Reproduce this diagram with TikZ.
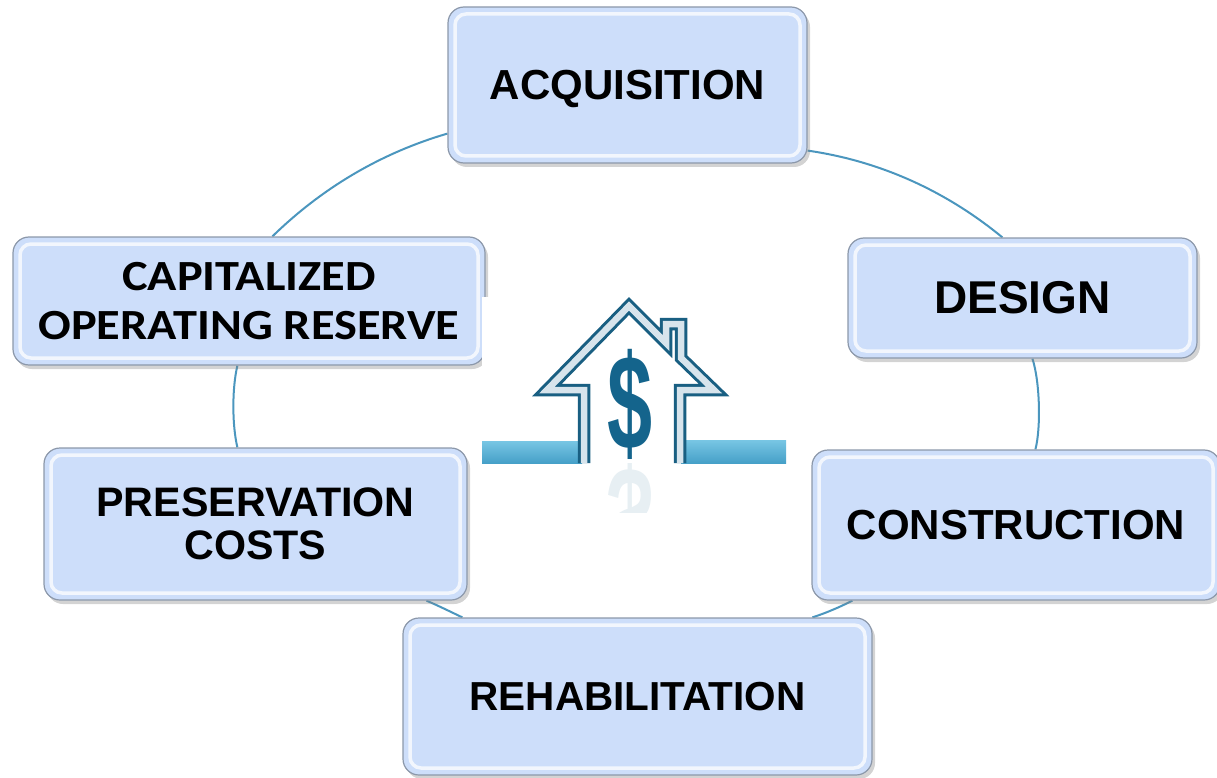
\documentclass[tikz,border=0pt]{standalone}
\usepackage{fontspec}
\setmainfont{Liberation Sans}
\newfontfamily\capfont[FakeStretch=1.125]{Carlito}
\usetikzlibrary{shadows,calc}
\definecolor{boxfill}{RGB}{205,222,250}
\definecolor{boxline}{RGB}{140,152,170}
\definecolor{ringcol}{RGB}{75,150,190}
\definecolor{housedark}{RGB}{25,95,130}
\definecolor{houseface}{RGB}{215,228,236}
\definecolor{dollarcol}{RGB}{20,100,140}
\definecolor{bandtop}{RGB}{120,198,228}
\definecolor{bandbot}{RGB}{70,160,200}
\pgfdeclarelayer{bg}
\pgfsetlayers{bg,main}
\tikzset{
  stage/.style={draw=boxline, line width=1.2pt, fill=boxfill, rounded corners=16pt,
    inner sep=0pt, align=center, text=black,
    drop shadow={shadow xshift=3pt, shadow yshift=-4pt, opacity=0.35},
    path picture={\draw[white, opacity=0.75, line width=3.5pt, rounded corners=11pt]
      ([shift={(7pt,-7pt)}]path picture bounding box.north west) rectangle
      ([shift={(-7pt,7pt)}]path picture bounding box.south east);}},
  ringline/.style={draw=ringcol, line width=2pt},
  houseline/.style={draw=housedark, line width=3pt, double=houseface, double distance=6.5pt, line join=miter},
}
\begin{document}
\begin{tikzpicture}[x=1pt,y=-1pt]
\useasboundingbox (0,0) rectangle (1217,778);

% stage boxes
\node[stage, minimum width=359pt, minimum height=156pt, text depth=0pt, font=\bfseries\fontsize{42}{46}\selectfont] (acq) at (627.5,85) {ACQUISITION};
\node[stage, minimum width=349pt, minimum height=120pt, font=\bfseries\fontsize{46}{50}\selectfont] (des) at (1022.5,298) {DESIGN};
\node[stage, minimum width=408pt, minimum height=150pt, font=\bfseries\fontsize{42}{46}\selectfont] (con) at (1016,525) {CONSTRUCTION};
\node[stage, minimum width=469pt, minimum height=157pt, font=\bfseries\fontsize{40.5}{44}\selectfont] (reh) at (637.5,696.5) {REHABILITATION};
\node[stage, minimum width=423pt, minimum height=152pt, font=\bfseries\fontsize{41.2}{43}\selectfont] (pre) at (255.5,524) {PRESERVATION\\COSTS};
\node[stage, minimum width=472pt, minimum height=128pt, font=\capfont\bfseries\fontsize{43}{49}\selectfont] (cap) at (249,301) {CAPITALIZED\\OPERATING RESERVE};

% ring connectors
\begin{pgfonlayer}{bg}
\draw[ringline] ($(acq.south west)+(0,-30)$) .. controls (381,153) and (322,188) .. ($(cap.north west)+(260,0)$);
\draw[ringline] ($(acq.south east)+(0,-13)$) .. controls (880,161) and (946,191) .. ($(des.north west)+(155,0)$);
\draw[ringline] ($(des.south west)+(185,0)$) .. controls (1040,382) and (1041,428) .. ($(con.north west)+(224,0)$);
\draw[ringline] ($(con.south west)+(41,0)$) .. controls (840,607) and (826,613) .. ($(reh.north west)+(410,0)$);
\draw[ringline] ($(pre.south west)+(383,0)$) .. controls (439,606) and (451,612) .. ($(reh.north west)+(60,0)$);
\draw[ringline] ($(pre.north west)+(194,0)$) .. controls (232,425) and (232,388) .. ($(cap.south west)+(225,0)$);
\end{pgfonlayer}

% central picture
\fill[white] (482,297) rectangle (786,512);
\shade[top color=bandtop, bottom color=bandbot] (482,441) rectangle (582,463);
\shade[top color=bandtop, bottom color=bandbot] (681,440) rectangle (786,463);
\draw[houseline] (584,463) -- (584,390) -- (547,390) -- (629,306) -- (666,343) -- (666,324) -- (681,324) -- (681,358) -- (714,390) -- (680,390) -- (680,463);
\node[text=dollarcol, font=\bfseries\fontsize{135}{135}\selectfont, inner sep=0pt] (dol) at (630,404) {\scalebox{0.6}[1]{\$}};
\begin{scope}
\clip (482,463) rectangle (786,512);
\node[text=dollarcol, opacity=0.1, font=\bfseries\fontsize{135}{135}\selectfont, inner sep=0pt] (dolr) at (630,514) {\scalebox{0.6}[-1]{\$}};
\end{scope}
\end{tikzpicture}
\end{document}
